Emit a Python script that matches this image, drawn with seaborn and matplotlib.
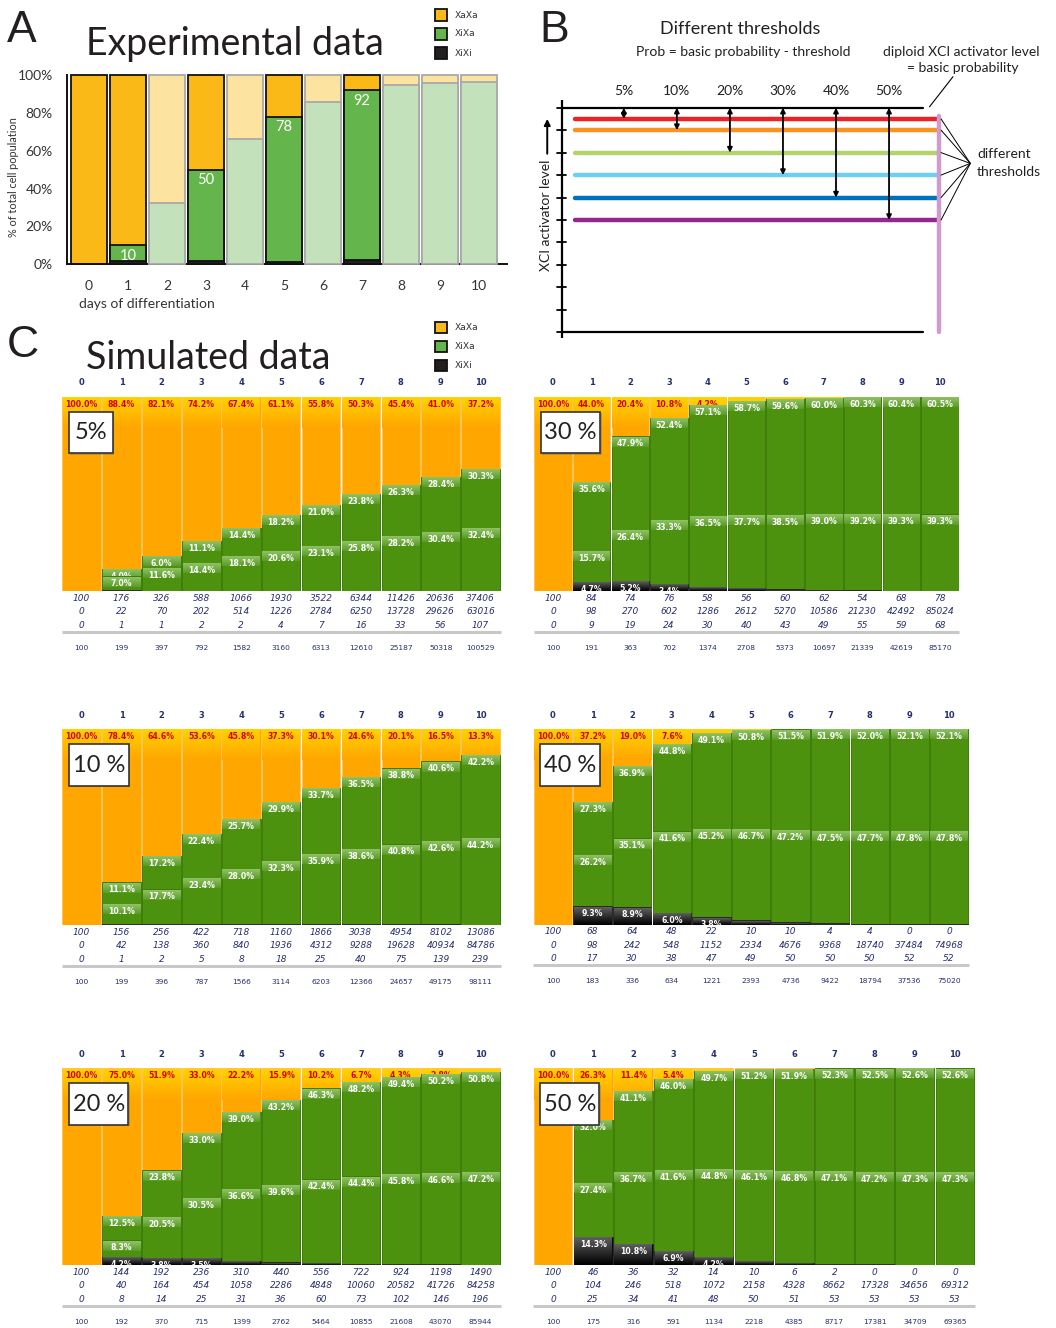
import numpy as np
import matplotlib
matplotlib.use("Agg")
import matplotlib.pyplot as plt
import matplotlib.transforms as mtransforms
from matplotlib.patches import Rectangle
from matplotlib.colors import to_rgb
import seaborn as sns

# ------------------------------------------------------------------ data
days = list(range(11))
day_labels = [str(d) for d in days]

# A: experimental data, % of total cell population
exp_xixa = [0, 10, 32.4, 50, 66, 78, 85.7, 92, 94.5, 95.6, 96.1]
exp_xixi = [0, 1.5, 0, 1.5, 0, 1.3, 0, 2.3, 0, 0, 0]
exp_measured = [True, True, False, True, False, True, False, True, False, False, False]
exp_value_labels = {1: "10", 3: "50", 5: "78", 7: "92"}

# B: thresholds below the basic probability
b_thresholds = [5, 10, 20, 30, 40, 50]
b_colors = ["#ED2224", "#F7941E", "#B3D36B", "#6DCFF6", "#0071BB", "#92278F"]
basic_level = 100

# C: simulated cell counts per threshold (XaXa, XiXa, XiXi, total)
# and the two XiXa sub-populations in % (upper / lower green block)
t05_xaxa = [100, 176, 326, 588, 1066, 1930, 3522, 6344, 11426, 20636, 37406]
t05_xixa = [0, 22, 70, 202, 514, 1226, 2784, 6250, 13728, 29626, 63016]
t05_xixi = [0, 1, 1, 2, 2, 4, 7, 16, 33, 56, 107]
t05_total = [100, 199, 397, 792, 1582, 3160, 6313, 12610, 25187, 50318, 100529]
t05_upper = [0, 4.0, 6.0, 11.1, 14.4, 18.2, 21.0, 23.8, 26.3, 28.4, 30.3]
t05_lower = [0, 7.0, 11.6, 14.4, 18.1, 20.6, 23.1, 25.8, 28.2, 30.4, 32.4]

t10_xaxa = [100, 156, 256, 422, 718, 1160, 1866, 3038, 4954, 8102, 13086]
t10_xixa = [0, 42, 138, 360, 840, 1936, 4312, 9288, 19628, 40934, 84786]
t10_xixi = [0, 1, 2, 5, 8, 18, 25, 40, 75, 139, 239]
t10_total = [100, 199, 396, 787, 1566, 3114, 6203, 12366, 24657, 49175, 98111]
t10_upper = [0, 11.1, 17.2, 22.4, 25.7, 29.9, 33.7, 36.5, 38.8, 40.6, 42.2]
t10_lower = [0, 10.1, 17.7, 23.4, 28.0, 32.3, 35.9, 38.6, 40.8, 42.6, 44.2]

t20_xaxa = [100, 144, 192, 236, 310, 440, 556, 722, 924, 1198, 1490]
t20_xixa = [0, 40, 164, 454, 1058, 2286, 4848, 10060, 20582, 41726, 84258]
t20_xixi = [0, 8, 14, 25, 31, 36, 60, 73, 102, 146, 196]
t20_total = [100, 192, 370, 715, 1399, 2762, 5464, 10855, 21608, 43070, 85944]
t20_upper = [0, 12.5, 23.8, 33.0, 39.0, 43.2, 46.3, 48.2, 49.4, 50.2, 50.8]
t20_lower = [0, 8.3, 20.5, 30.5, 36.6, 39.6, 42.4, 44.4, 45.8, 46.6, 47.2]

t30_xaxa = [100, 84, 74, 76, 58, 56, 60, 62, 54, 68, 78]
t30_xixa = [0, 98, 270, 602, 1286, 2612, 5270, 10586, 21230, 42492, 85024]
t30_xixi = [0, 9, 19, 24, 30, 40, 43, 49, 55, 59, 68]
t30_total = [100, 191, 363, 702, 1374, 2708, 5373, 10697, 21339, 42619, 85170]
t30_upper = [0, 35.6, 47.9, 52.4, 57.1, 58.7, 59.6, 60.0, 60.3, 60.4, 60.5]
t30_lower = [0, 15.7, 26.4, 33.3, 36.5, 37.7, 38.5, 39.0, 39.2, 39.3, 39.3]

t40_xaxa = [100, 68, 64, 48, 22, 10, 10, 4, 4, 0, 0]
t40_xixa = [0, 98, 242, 548, 1152, 2334, 4676, 9368, 18740, 37484, 74968]
t40_xixi = [0, 17, 30, 38, 47, 49, 50, 50, 50, 52, 52]
t40_total = [100, 183, 336, 634, 1221, 2393, 4736, 9422, 18794, 37536, 75020]
t40_upper = [0, 27.3, 36.9, 44.8, 49.1, 50.8, 51.5, 51.9, 52.0, 52.1, 52.1]
t40_lower = [0, 26.2, 35.1, 41.6, 45.2, 46.7, 47.2, 47.5, 47.7, 47.8, 47.8]

t50_xaxa = [100, 46, 36, 32, 14, 10, 6, 2, 0, 0, 0]
t50_xixa = [0, 104, 246, 518, 1072, 2158, 4328, 8662, 17328, 34656, 69312]
t50_xixi = [0, 25, 34, 41, 48, 50, 51, 53, 53, 53, 53]
t50_total = [100, 175, 316, 591, 1134, 2218, 4385, 8717, 17381, 34709, 69365]
t50_upper = [0, 32.0, 41.1, 46.0, 49.7, 51.2, 51.9, 52.3, 52.5, 52.6, 52.6]
t50_lower = [0, 27.4, 36.7, 41.6, 44.8, 46.1, 46.8, 47.1, 47.2, 47.3, 47.3]

# ------------------------------------------------------------------ style
W, H, DPI = 1056, 1328, 100
sns.set_style("white")
plt.rcParams["font.family"] = ["Lato", "DejaVu Sans"]
MAIN_FONT = ["Lato", "DejaVu Sans"]
SIM_FONT = ["DejaVu Sans"]
INK = "#231F20"
NAVY = "#27306E"

C_XAXA = "#FBB917"
C_XIXA = "#65B54D"
C_XIXI = "#231F20"
C_XAXA_FADED = "#FDE3A0"
C_XIXA_FADED = "#C3E2BB"

ORANGE = "#FFA600"
ORANGE_TOP = "#FFD200"
ORANGE_EDGE = "#FFC552"
GREEN = "#4D920E"
GREEN_EDGE = "#3F7D0A"

fig = plt.figure(figsize=(W / DPI, H / DPI), dpi=DPI)
fig.patch.set_facecolor("white")


def px_axes(left, top, width, height):
    return fig.add_axes([left / W, 1 - (top + height) / H, width / W, height / H])


def shifted(ax, dy_px, base=None):
    base = ax.get_xaxis_transform() if base is None else base
    return base + mtransforms.ScaledTranslation(0, dy_px / DPI, fig.dpi_scale_trans)


def ftext(x, y, s, **kw):
    return fig.text(x / W, 1 - y / H, s, **kw)


def vgrad(ax, x0, x1, y0, y1, ctop, cbot, z):
    t = np.linspace(0, 1, 24)[:, None, None]
    img = (1 - t) * np.array(to_rgb(ctop)) + t * np.array(to_rgb(cbot))
    ax.imshow(img, extent=(x0, x1, y0, y1), origin="upper", aspect="auto",
              interpolation="bilinear", zorder=z)


def legend_block(y_centers):
    names = ["XaXa", "XiXa", "XiXi"]
    cols = [C_XAXA, C_XIXA, C_XIXI]
    for yc, nm, c in zip(y_centers, names, cols):
        fig.add_artist(Rectangle((435 / W, 1 - (yc + 5.7) / H), 11.5 / W, 11.4 / H,
                                 transform=fig.transFigure, facecolor=c,
                                 edgecolor="#111111", linewidth=1.3))
        ftext(455, yc, nm, fontsize=6.6, family=SIM_FONT, color="#333333",
              ha="left", va="center")


# ------------------------------------------------------------------ panel letters / titles
ftext(7, 41.7, "A", fontsize=32, family=["Liberation Sans"], color=INK, va="baseline")
ftext(539, 41.7, "B", fontsize=32, family=["Liberation Sans"], color=INK, va="baseline")
ftext(7, 357, "C", fontsize=32, family=["Liberation Sans"], color=INK, va="baseline")
ftext(86, 55, "Experimental data", fontsize=27, family=MAIN_FONT, color=INK, va="baseline")
ftext(86, 369, "Simulated data", fontsize=27, family=MAIN_FONT, color=INK, va="baseline")
legend_block([15, 34, 53])
legend_block([327.5, 346.5, 365.5])

# ------------------------------------------------------------------ A: experimental bars
axA = px_axes(66.7, 75, 440.3, 189.3)
pal_top = {d: (C_XAXA if m else C_XAXA_FADED) for d, m in zip(day_labels, exp_measured)}
pal_mid = {d: (C_XIXA if m else C_XIXA_FADED) for d, m in zip(day_labels, exp_measured)}
pal_bot = {d: C_XIXI for d in day_labels}
bwA = 0.92
for vals, pal, z in [([100] * len(days), pal_top, 2), (exp_xixa, pal_mid, 3), (exp_xixi, pal_bot, 4)]:
    n_before = len(axA.patches)
    sns.barplot(x=day_labels, y=vals, hue=day_labels, palette=pal, legend=False,
                saturation=1, width=bwA, errorbar=None, ax=axA, zorder=z)
    for p, m, v in zip(axA.patches[n_before:], exp_measured, vals):
        p.set_edgecolor("#111111" if m else "#A9A9A9")
        p.set_linewidth(1.3 if v > 0 else 0)
        p.set_clip_on(False)
for i, s in exp_value_labels.items():
    axA.text(i, exp_xixa[i], s, transform=shifted(axA, -10.5, axA.transData),
             ha="center", va="center", color="white", fontsize=10.5, family=MAIN_FONT, zorder=6)
axA.set_xlim(-0.57, 10.72)
axA.set_ylim(0, 100)
sns.despine(ax=axA)
for sp in ["left", "bottom"]:
    axA.spines[sp].set_linewidth(1.4)
    axA.spines[sp].set_color("#111111")
axA.set_xticks(range(len(days)))
axA.set_xticklabels(day_labels)
axA.set_yticks(range(0, 101, 20))
axA.set_yticklabels([f"{v}%" for v in range(0, 101, 20)])
axA.set_yticks(range(10, 100, 20), minor=True)
axA.tick_params(axis="x", length=6, width=1.2, pad=5, labelsize=10, labelcolor="#333333", color="#111111")
axA.tick_params(axis="y", which="both", length=6, width=1.2, pad=4, labelsize=10,
                labelcolor="#333333", color="#111111")
axA.set_xlabel("")
axA.set_ylabel("")
ftext(79, 304.5, "days of differentiation", fontsize=10, family=MAIN_FONT, color="#333333",
      ha="left", va="center")
ftext(14, 177, "% of total cell population", fontsize=7.8, family=MAIN_FONT, color="#333333",
      rotation=90, ha="center", va="center")

# ------------------------------------------------------------------ B: thresholds scheme
axB = px_axes(561.7, 107.7, 361.3, 224.6)
axB.set_xlim(0, 100)
axB.set_ylim(0, 100)
axB.axis("off")
axB.plot([0, 0], [-2.6, 103.4], color="black", lw=1.6, clip_on=False, solid_capstyle="butt")
for lv in range(0, 101, 10):
    axB.plot([-1.2, 1.2], [lv, lv], color="black", lw=1.3, clip_on=False)
axB.plot([0, 100], [basic_level, basic_level], color="black", lw=1.6, clip_on=False)
axB.plot([0, 100], [0, 0], color="black", lw=1.6, clip_on=False)
levels = [basic_level - t for t in b_thresholds]
for lv, c in zip(levels, b_colors):
    axB.plot([3.7, 104.2], [lv, lv], color=c, lw=3.2, clip_on=False, solid_capstyle="round")
axB.plot([104.4, 104.4], [96.2, 0], color="#CF9BCF", lw=3.2, clip_on=False, solid_capstyle="round")
for i, (t, lv) in enumerate(zip(b_thresholds, levels)):
    x = 17.2 + 14.68 * i
    axB.annotate("", xy=(x, lv), xytext=(x, basic_level),
                 arrowprops=dict(arrowstyle="<|-|>", color="black", lw=1.3,
                                 mutation_scale=7, shrinkA=0, shrinkB=0),
                 annotation_clip=False)
    axB.text(x, 107.6, f"{t}%", ha="center", va="center", fontsize=10,
             family=MAIN_FONT, color=INK)
for lv in levels:
    axB.plot([113.1, 105.0], [75.2, lv], color="black", lw=0.7, clip_on=False)
axB.plot([101.8, 108.3], [100.4, 113.8], color="black", lw=0.8, clip_on=False)
axB.text(-4.3, 52.2, "XCI activator level", rotation=90, ha="center", va="center",
         fontsize=10, family=MAIN_FONT, color=INK)
axB.annotate("", xy=(-4.0, 95.0), xytext=(-4.0, 79.5),
             arrowprops=dict(arrowstyle="-|>", color="black", lw=1.4, mutation_scale=9,
                             shrinkA=0, shrinkB=0), annotation_clip=False)
ftext(740.5, 29, "Different thresholds", fontsize=13, family=MAIN_FONT, color=INK, ha="center", va="center")
ftext(743, 51.5, "Prob = basic probability - threshold", fontsize=10, family=MAIN_FONT,
      color=INK, ha="center", va="center")
ftext(961, 51.5, "diploid XCI activator level", fontsize=10, family=MAIN_FONT, color=INK,
      ha="center", va="center")
ftext(963, 67.5, "= basic probability", fontsize=10, family=MAIN_FONT, color=INK,
      ha="center", va="center")
ftext(977, 154, "different", fontsize=10, family=MAIN_FONT, color=INK, ha="left", va="center")
ftext(977, 171.5, "thresholds", fontsize=10, family=MAIN_FONT, color=INK, ha="left", va="center")


# ------------------------------------------------------------------ C: simulated panels
def sim_panel(tag, xaxa, xixa, xixi, total, upper, lower, left, top, bottom, pitch, box_w):
    n = len(days)
    height_px = bottom - top
    ax = px_axes(left, top, pitch * n, height_px)
    pct_orange = [100 * a / t for a, t in zip(xaxa, total)]
    pct_black = [100 * k / t for k, t in zip(xixi, total)]
    top_black = pct_black
    top_lower = [b + l for b, l in zip(top_black, lower)]
    top_upper = [l + u for l, u in zip(top_lower, upper)]
    top_orange = [u + o for u, o in zip(top_upper, pct_orange)]
    layers = [
        (top_orange, ORANGE, ORANGE_EDGE, pct_orange, "#D40000"),
        (top_upper, GREEN, GREEN_EDGE, upper, "#FFFFFF"),
        (top_lower, GREEN, GREEN_EDGE, lower, "#FFFFFF"),
        (top_black, "#0A0A0A", "#2A2A2A", pct_black, "#FFFFFF"),
    ]
    bw = 0.965
    inset = 0.012
    for k, (tops, fc, ec, vals, tc) in enumerate(layers):
        z = 2 + k
        sns.barplot(x=day_labels, y=tops, color=fc, saturation=1, width=bw, errorbar=None,
                    edgecolor=ec, linewidth=0.7, ax=ax, zorder=z)
        for i in range(n):
            if tops[i] <= 0:
                continue
            x0, x1 = i - bw / 2 + inset, i + bw / 2 - inset
            if k == 0:
                vgrad(ax, x0, x1, tops[i] - 16, tops[i] - 0.3, ORANGE_TOP, ORANGE, z + 0.1)
            elif k == 3:
                vgrad(ax, x0, x1, 0, tops[i] - 0.3, "#5E5E5E", "#000000", z + 0.1)
            else:
                vgrad(ax, x0, x1, tops[i] - 5.2, tops[i] - 0.3, "#8FC266", "#5A9C26", z + 0.1)
            # a label only shows where its block is tall enough to reveal part of it
            if vals[i] * height_px / 100 < 4.6:
                continue
            ax.text(i, tops[i], f"{vals[i]:.1f}%", transform=shifted(ax, -7.5, ax.transData),
                    ha="center", va="center", fontsize=5.6, fontweight="bold", family=SIM_FONT,
                    color=tc, zorder=z + 0.2, clip_on=True)
    ax.set_xlim(-0.5, n - 0.5)
    ax.set_ylim(0, 100)
    ax.axis("off")
    for i, d in enumerate(day_labels):
        ax.text(i, 1, d, transform=shifted(ax, 14), ha="center", va="center", fontsize=6,
                fontweight="bold", family=SIM_FONT, color=NAVY)
        for r, row in enumerate([xaxa, xixa, xixi]):
            ax.text(i, 0, str(row[i]), transform=shifted(ax, -(7.5 + 13.3 * r)), ha="center",
                    va="center", fontsize=6.5, style="italic", family=SIM_FONT, color=NAVY)
        ax.text(i, 0, str(total[i]), transform=shifted(ax, -56.7), ha="center", va="center",
                fontsize=5.4, family=SIM_FONT, color=NAVY)
    ax.plot([-0.5, n - 0.5], [0, 0], transform=shifted(ax, -40.7), color="#C8C8C8", lw=2.2,
            clip_on=False, solid_capstyle="butt")
    # threshold tag box
    bx, by, bh = left + 7.2, top + 15, 41.5
    fig.add_artist(Rectangle(((bx + 1.5) / W, 1 - (by + bh + 1.5) / H), box_w / W, bh / H,
                             transform=fig.transFigure, facecolor="#777777", alpha=0.45,
                             edgecolor="none", zorder=5))
    fig.add_artist(Rectangle((bx / W, 1 - (by + bh) / H), box_w / W, bh / H,
                             transform=fig.transFigure, facecolor="white",
                             edgecolor="#333333", linewidth=1.2, zorder=6))
    ftext(bx + box_w / 2, by + bh / 2 + 0.5, tag, fontsize=17, family=MAIN_FONT, color="#222222",
          ha="center", va="center", zorder=7)


sim_panel("5%", t05_xaxa, t05_xixa, t05_xixi, t05_total, t05_upper, t05_lower,
          61.7, 396.7, 591.0, 39.9, 44)
sim_panel("10 %", t10_xaxa, t10_xixa, t10_xixi, t10_total, t10_upper, t10_lower,
          61.7, 729.0, 925.0, 39.9, 60)
sim_panel("20 %", t20_xaxa, t20_xixa, t20_xixi, t20_total, t20_upper, t20_lower,
          61.7, 1068.3, 1265.0, 39.9, 59.5)
sim_panel("30 %", t30_xaxa, t30_xixa, t30_xixi, t30_total, t30_upper, t30_lower,
          533.6, 396.7, 591.0, 38.7, 59.3)
sim_panel("40 %", t40_xaxa, t40_xixa, t40_xixi, t40_total, t40_upper, t40_lower,
          533.2, 729.0, 924.5, 39.6, 59.3)
sim_panel("50 %", t50_xaxa, t50_xixa, t50_xixi, t50_total, t50_upper, t50_lower,
          532.9, 1068.3, 1265.0, 40.2, 59.3)

fig.savefig("out.png", dpi=DPI, facecolor="white")
